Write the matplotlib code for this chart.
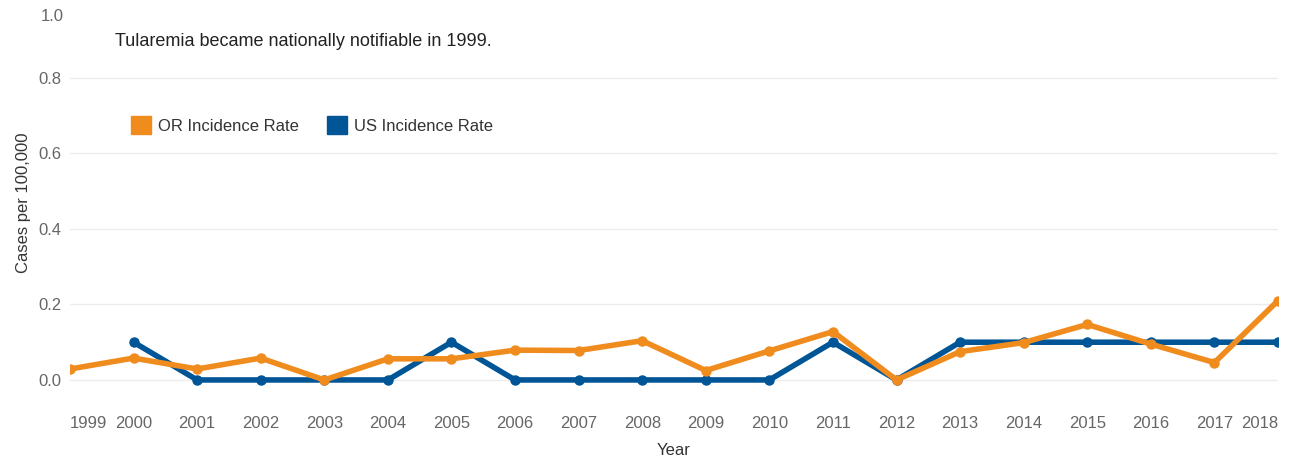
import matplotlib.pyplot as plt
from matplotlib.patches import Patch

years = list(range(1999, 2019))
or_rate = [0.029, 0.058, 0.029, 0.058, 0.0, 0.056, 0.056, 0.079, 0.078, 0.104,
           0.025, 0.077, 0.128, 0.0, 0.075, 0.099, 0.147, 0.095, 0.046, 0.21]
us_years = list(range(2000, 2019))
us_rate = [0.1, 0.0, 0.0, 0.0, 0.0, 0.1, 0.0, 0.0, 0.0, 0.0,
           0.0, 0.1, 0.0, 0.1, 0.1, 0.1, 0.1, 0.1, 0.1]
y_ticks = [0, 0.2, 0.4, 0.6, 0.8]

or_color = '#F08C1E'
us_color = '#005596'

plt.rcParams['font.family'] = ['Liberation Sans', 'DejaVu Sans']

fig = plt.figure(figsize=(12.91, 4.62), dpi=100)
ax = fig.add_axes([70 / 1291, 1 - 402.6 / 462, (1278 - 70) / 1291, (402.6 - 2.5) / 462])

ax.plot(us_years, us_rate, color=us_color, lw=4, marker='o', ms=6.5, solid_joinstyle='round', zorder=3)
ax.plot(years, or_rate, color=or_color, lw=4, marker='o', ms=6.5, solid_joinstyle='round', zorder=4)

ax.set_xlim(1999, 2018)
ax.set_ylim(-0.06, 1.0)
ax.set_xticks(years)
ax.set_xticklabels([str(y) for y in years])
ax.set_yticks(y_ticks)
ax.set_yticklabels([f'{v:.1f}' for v in y_ticks])

for s in ax.spines.values():
    s.set_visible(False)
ax.tick_params(axis='both', length=0, labelsize=12, labelcolor='#666666')
ax.tick_params(axis='x', pad=10)
ax.tick_params(axis='y', pad=6)
ax.grid(axis='y', color='#ececec', lw=1)
ax.set_axisbelow(True)

# top label sits a little lower than its value, like the original
ax.annotate('1.0', xy=(0, 1.0), xycoords=('axes fraction', 'data'), xytext=(-4.5, -10),
            textcoords='offset points', ha='right', va='center', fontsize=12, color='#666666')

xl = ax.get_xticklabels()
xl[0].set_ha('left')
xl[-1].set_ha('right')

ax.set_xlabel('Year', fontsize=12, color='#333333', labelpad=8)
ax.set_ylabel('Cases per 100,000', fontsize=12, color='#333333')
ax.yaxis.set_label_coords(-0.032, 0.5)

ax.text(115 / 1291, 1 - 41 / 462, 'Tularemia became nationally notifiable in 1999.',
        transform=fig.transFigure, fontsize=13, color='#222222', va='center', ha='left')

handles = [Patch(color=or_color, label='OR Incidence Rate'),
           Patch(color=us_color, label='US Incidence Rate')]
fig.legend(handles=handles, loc='center left', bbox_to_anchor=(116 / 1291, 1 - 125 / 462),
           ncol=2, frameon=False, fontsize=12, handlelength=1.2, handleheight=1.2,
           handletextpad=0.42, columnspacing=1.68, labelcolor='#333333')

fig.savefig('out.png', dpi=100)
